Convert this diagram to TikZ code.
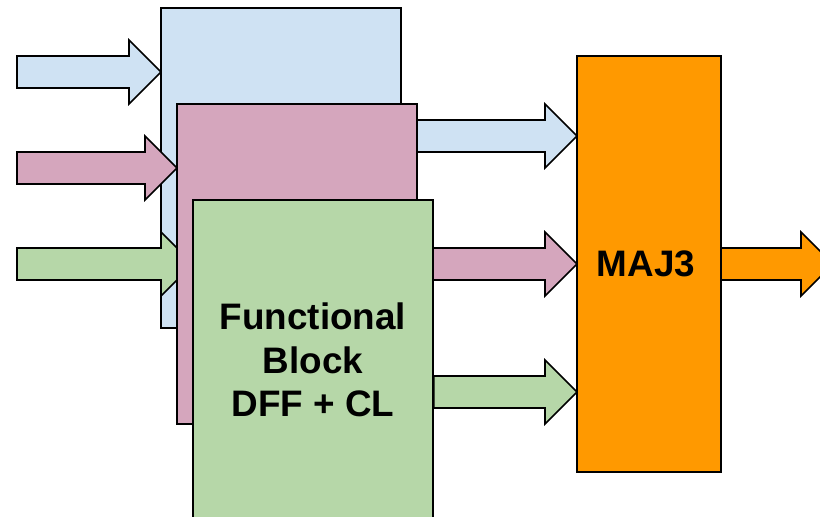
\documentclass[tikz,border=0pt]{standalone}
\usepackage{fontspec}
\setmainfont{Liberation Sans}
\usetikzlibrary{calc,positioning}

\definecolor{fbblue}{HTML}{CFE2F3}
\definecolor{fbpink}{HTML}{D5A6BD}
\definecolor{fbgreen}{HTML}{B6D7A8}
\definecolor{majorange}{HTML}{FF9900}

% fat block arrow: fill colour, start point, end point (only its x is used)
\newcommand{\fatarrow}[3]{%
  \draw[fill=#1, line width=1.6bp, line join=miter] let \p1=(#2), \p2=(#3) in
    (\x1,\y1+16bp) -- (\x2-32bp,\y1+16bp) -- (\x2-32bp,\y1+32bp) -- (\x2,\y1)
    -- (\x2-32bp,\y1-32bp) -- (\x2-32bp,\y1-16bp) -- (\x1,\y1-16bp) -- cycle;}

\begin{document}
\begin{tikzpicture}[x=1bp, y=-1bp]

    \useasboundingbox (0,0) rectangle (820,517);
    \clip (0,0) rectangle (820,517);

    \tikzstyle{fnode} = [draw=black, line width=1.6bp, rectangle, minimum width=240bp, minimum height=320bp, inner sep=0pt, align=center]
    \tikzstyle{vnode} = [draw=black, line width=1.6bp, rectangle, minimum width=144bp, minimum height=416bp, inner sep=0pt, fill=majorange]

    \coordinate (in1) at (17,72);
    \coordinate (in2) at (17,168);
    \coordinate (in3) at (17,264);

    % three copies of the block, back to front
    \fatarrow{fbblue}{in1}{161,72}
    \node[fnode, fill=fbblue] (fb1) at (281,168) {};

    \fatarrow{fbpink}{in2}{177,168}
    \fatarrow{fbgreen}{in3}{193,264}
    \fatarrow{fbblue}{$(fb1.east)+(0,-32)$}{577,0}

    \node[fnode, fill=fbpink] (fb2) at (297,264) {};
    \fatarrow{fbpink}{fb2.east}{577,0}

    \node[fnode, fill=fbgreen, font=\bfseries\fontsize{37}{43.5}\selectfont] (fb3) at (313,360)
      {Functional\\Block\\DFF + CL};
    \fatarrow{fbgreen}{$(fb3.east)+(0,32)$}{577,0}

    % voter
    \fatarrow{majorange}{649,264}{833,0}
    \node[vnode, font=\bfseries\fontsize{37}{43.5}\selectfont] (maj) at (649,264) {\hspace*{-6bp}MAJ3};

\end{tikzpicture}
\end{document}
